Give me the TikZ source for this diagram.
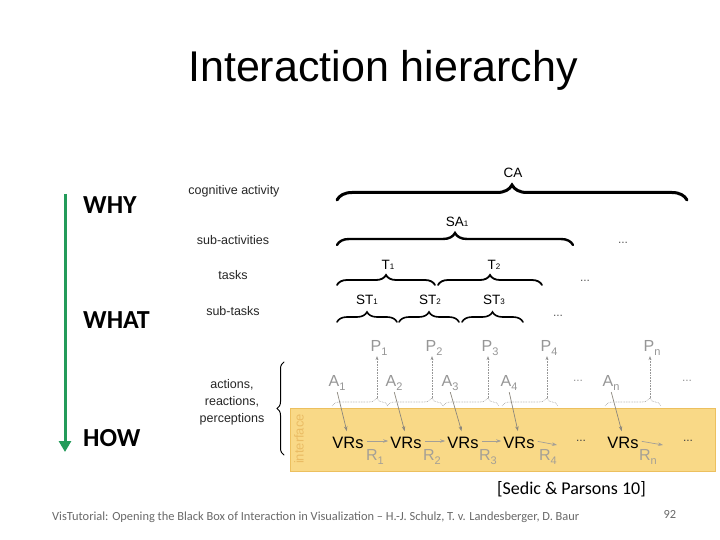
\documentclass[tikz,border=0pt]{standalone}
\usepackage{fontspec}
\setmainfont{Liberation Sans}
\newfontfamily\carl{Carlito}
\usetikzlibrary{decorations.pathreplacing,arrows.meta}
\definecolor{grn}{RGB}{35,155,90}
\definecolor{lbl}{RGB}{150,150,150}
\definecolor{rlbl}{RGB}{165,160,150}
\definecolor{ifill}{RGB}{249,217,135}
\definecolor{iedge}{RGB}{236,192,95}
\definecolor{itext}{RGB}{234,188,100}
\definecolor{arr}{RGB}{140,135,125}
\definecolor{foot}{RGB}{105,105,105}
\newcommand\lowsub[1]{\raisebox{-0.3em}{\fontsize{11}{11}\selectfont #1}}
\newcommand\tinysub[1]{{\fontsize{8}{8}\selectfont #1}}
\begin{document}
\begin{tikzpicture}[x=1pt,y=-1pt,
  lvl/.style={font=\fontsize{12.5}{12.5}\selectfont, text=black!85, inner sep=0pt},
  blbl/.style={font=\fontsize{13.5}{13.5}\selectfont, inner sep=0pt},
  dots/.style={font=\fontsize{12}{12}\selectfont, text=black!65, inner sep=0pt},
  gdots/.style={font=\fontsize{12}{12}\selectfont, text=lbl, inner sep=0pt},
  plbl/.style={font=\fontsize{16}{16}\selectfont, text=lbl, inner sep=0pt},
  rl/.style={font=\fontsize{16}{16}\selectfont, text=rlbl, inner sep=0pt},
  vr/.style={font=\fontsize{16.5}{16.5}\selectfont, inner sep=1pt},
  brc/.style={decorate, decoration={brace, amplitude=#1}, line cap=round},
  dbrc/.style={decorate, decoration={brace, amplitude=8, aspect=0.8}, draw=lbl, densely dotted, line width=0.6pt},
  parr/.style={draw=lbl, densely dotted, line width=0.6pt, -{Stealth[length=4pt,width=3pt]}},
  aarr/.style={draw=arr, line width=0.7pt, -{Stealth[length=5pt,width=3.5pt]}},
  rarr/.style={draw=arr!80, line width=0.7pt, -{Stealth[length=5pt,width=3.5pt]}},
  ask/.style={font=\carl\bfseries\fontsize{26}{26}\selectfont, anchor=base west, inner sep=0pt},
  foottxt/.style={font=\carl\fontsize{12.4}{12.4}\selectfont, text=foot, inner sep=0pt}
]
\useasboundingbox (0,0) rectangle (720,540);
\fill[white] (0,0) rectangle (720,540);

% title
\node[font=\fontsize{43}{43}\selectfont, anchor=base, inner sep=0pt] (title) at (383,82) {Interaction hierarchy};

% why / what / how
\coordinate (gtop) at (65,194);
\coordinate (gbot) at (65,452);
\draw[grn, line width=3pt, -{Triangle[length=11pt,width=12pt]}] (gtop) -- (gbot);
\node[ask] (why) at (83,214) {WHY};
\node[ask] (what) at (83,328) {WHAT};
\node[ask] (how) at (83,446) {HOW};

% level labels
\node[lvl] (l1) at (234,191) {cognitive activity};
\node[lvl] (l2) at (233,240) {sub-activities};
\node[lvl] (l3) at (233,275) {tasks};
\node[lvl] (l4) at (233,311) {sub-tasks};
\node[lvl] (l5a) at (232,385) {actions,};
\node[lvl] (l5b) at (232,402) {reactions,};
\node[lvl] (l5c) at (232,419) {perceptions};

% braces
\draw[brc=15, line width=3pt] (337,200) -- (687,200);
\node[blbl] (ca) at (513,173) {CA};
\draw[brc=12, line width=2.4pt] (337,245) -- (573,245);
\node[blbl] (sa) at (457,222) {SA\tinysub{1}};
\node[dots] (sad) at (623,243) {...};
\draw[brc=10, line width=1.8pt] (337,285) -- (435,285);
\draw[brc=10, line width=1.8pt] (438,285) -- (542,285);
\node[blbl] (t1) at (388,265) {T\tinysub{1}};
\node[blbl] (t2) at (494,265) {T\tinysub{2}};
\node[dots] (td) at (585,281) {...};
\draw[brc=10, line width=1.6pt] (337,322) -- (397,322);
\draw[brc=10, line width=1.6pt] (399,322) -- (459,322);
\draw[brc=10, line width=1.6pt] (462,322) -- (523,322);
\node[blbl] (st1) at (367,300) {ST\tinysub{1}};
\node[blbl] (st2) at (430,300) {ST\tinysub{2}};
\node[blbl] (st3) at (494,300) {ST\tinysub{3}};
\node[dots] (std) at (558,316) {...};

% interface band
\draw[fill=ifill, draw=iedge, line width=0.8pt] (290,408) rectangle (715,471);
\node[rotate=90, font=\fontsize{13}{13}\selectfont, text=itext, inner sep=0pt] (iface) at (299,439) {interface};

% left brace
\draw[brc=7, line width=1pt] (284,455) -- (284,362);

% perceptions
\node[plbl] (p1) at (379,348) {P\lowsub{1}};
\node[plbl] (p2) at (434,348) {P\lowsub{2}};
\node[plbl] (p3) at (490,348) {P\lowsub{3}};
\node[plbl] (p4) at (549,348) {P\lowsub{4}};
\node[plbl] (pn) at (652,348) {P\lowsub{n}};

% actions
\node[plbl] (a1) at (337,383) {A\lowsub{1}};
\node[plbl] (a2) at (394,383) {A\lowsub{2}};
\node[plbl] (a3) at (450,383) {A\lowsub{3}};
\node[plbl] (a4) at (509,383) {A\lowsub{4}};
\node[gdots] (ad1) at (578,381) {...};
\node[plbl] (an) at (611,383) {A\lowsub{n}};
\node[gdots] (ad2) at (687,381) {...};

% dotted perception braces
\foreach \x/\n in {377/1,432/2,488/3,547/4,650/n}{
  \draw[dbrc] (\x-45,406) -- (\x+11,406);
  \coordinate (tip\n) at (\x,398);
}
\draw[parr] (tip1) -- (p1.south west -| tip1);
\draw[parr] (tip2) -- (p2.south west -| tip2);
\draw[parr] (tip3) -- (p3.south west -| tip3);
\draw[parr] (tip4) -- (p4.south west -| tip4);
\draw[parr] (tipn) -- (pn.south west -| tipn);

% visual representations
\node[vr] (v1) at (348,443) {VRs};
\node[vr] (v2) at (406,443) {VRs};
\node[vr] (v3) at (463,443) {VRs};
\node[vr] (v4) at (519,443) {VRs};
\node[dots, text=black!75] (vd1) at (581,441) {...};
\node[vr] (vn) at (623,443) {VRs};
\node[dots, text=black!75] (vd2) at (688,441) {...};
\coordinate (e4) at (557,445);
\coordinate (en) at (663,445);

% action arrows
\draw[aarr, shorten <=1pt, shorten >=5pt] (a1.south) -- (v1.north);
\draw[aarr, shorten <=1pt, shorten >=5pt] (a2.south) -- (v2.north);
\draw[aarr, shorten <=1pt, shorten >=5pt] (a3.south) -- (v3.north);
\draw[aarr, shorten <=1pt, shorten >=5pt] (a4.south) -- (v4.north);
\draw[aarr, shorten <=1pt, shorten >=5pt] (an.south) -- (vn.north);

% reaction arrows
\draw[rarr, shorten <=2pt, shorten >=1pt] ([yshift=2pt]v1.east) -- ([yshift=2pt]v2.west);
\draw[rarr, shorten <=2pt, shorten >=1pt] ([yshift=2pt]v2.east) -- ([yshift=2pt]v3.west);
\draw[rarr, shorten <=2pt, shorten >=1pt] ([yshift=2pt]v3.east) -- ([yshift=2pt]v4.west);
\draw[rarr, shorten <=2pt] ([yshift=2pt]v4.east) -- (e4);
\draw[rarr, shorten <=2pt] ([yshift=2pt]vn.east) -- (en);
\node[rl] (r1) at (375,457) {R\lowsub{1}};
\node[rl] (r2) at (432,457) {R\lowsub{2}};
\node[rl] (r3) at (488,457) {R\lowsub{3}};
\node[rl] (r4) at (548,457) {R\lowsub{4}};
\node[rl] (rn) at (648,457) {R\lowsub{n}};

% citation and footer
\node[font=\carl\fontsize{18}{18}\selectfont, anchor=base east, inner sep=0pt] (cite) at (646,494) {[Sedic \& Parsons 10]};
\node[foottxt, anchor=base west] (foot) at (52,520) {\makebox[624pt][l]{VisTutorial: Opening the Black Box of Interaction in Visualization – H.-J. Schulz, T. v. Landesberger, D. Baur\hfill\raisebox{1.5pt}{92}}};
\end{tikzpicture}
\end{document}
